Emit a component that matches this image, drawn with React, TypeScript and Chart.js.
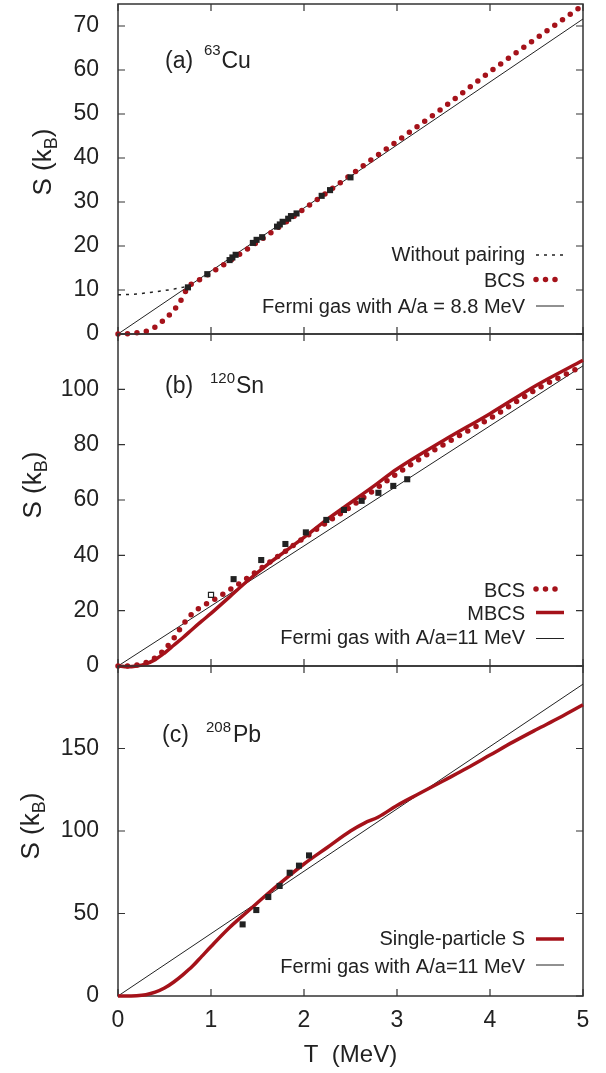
import React, { useEffect, useRef } from 'react';
import { Chart, registerables } from 'chart.js';

Chart.register(...registerables);

const FONT = '"Liberation Sans", Arial, Helvetica, sans-serif';
const INK = '#222222';
const RED = '#a5121a';

// ---------- Panel (a) 63Cu ----------
const cuFermiT = [0, 5];
const cuFermiS = [0, 71.6];
const cuNoPairT = [0, 0.2, 0.4, 0.6, 0.74];
const cuNoPairS = [8.9, 9.1, 9.6, 10.2, 10.8];
const cuBcsT = [0, 0.1, 0.2, 0.3, 0.4, 0.5, 0.55, 0.6, 0.65, 0.7, 0.75, 0.85, 1.0, 1.25, 1.5, 1.75, 2.0, 2.25, 2.5, 2.75, 3.0, 3.5, 4.0, 4.5, 5.0];
const cuBcsS = [0, 0.05, 0.25, 0.6, 1.6, 3.3, 4.3, 5.4, 6.8, 8.5, 10.6, 12.0, 13.9, 17.3, 20.9, 24.6, 28.4, 32.2, 36.1, 40.0, 43.8, 51.5, 59.6, 67.2, 74.7];
const cuExpT = [0.752, 0.96, 1.2, 1.23, 1.265, 1.45, 1.49, 1.55, 1.71, 1.74, 1.77, 1.83, 1.86, 1.92, 2.19, 2.28, 2.5];
const cuExpS = [10.6, 13.6, 16.8, 17.4, 18.0, 20.7, 21.4, 22.0, 24.4, 24.9, 25.5, 26.2, 26.8, 27.4, 31.4, 32.7, 35.6];

// ---------- Panel (b) 120Sn ----------
const snFermiT = [0, 5];
const snFermiS = [0, 108.5];
const snT = [0, 0.1, 0.2, 0.3, 0.4, 0.5, 0.6, 0.7, 0.8, 0.9, 1.0, 1.2, 1.4, 1.6, 1.8, 2.0, 2.25, 2.5, 2.75, 3.0, 3.5, 4.0, 4.5, 5.0];
const snBcsS = [0, 0, 0.3, 1.2, 3.0, 6.0, 10.0, 15.0, 19.0, 21.5, 23.3, 27.5, 32.0, 36.8, 41.5, 46.3, 52.0, 57.5, 63.5, 69.5, 80.0, 89.5, 100.0, 108.5];
const snMbcsS = [0, -0.3, 0, 0.8, 2.3, 4.7, 7.5, 10.3, 13.3, 16.2, 19.0, 25.0, 31.0, 36.5, 41.5, 46.5, 53.0, 59.0, 65.0, 71.2, 81.5, 91.2, 101.5, 110.5];
const snExpT = [1.243, 1.54, 1.8, 2.02, 2.24, 2.43, 2.62, 2.8, 2.96, 3.11];
const snExpS = [31.4, 38.3, 44.1, 48.3, 52.8, 56.4, 59.7, 62.6, 65.1, 67.5];
const snOpenT = [1.0];
const snOpenS = [25.7];

// ---------- Panel (c) 208Pb ----------
const pbFermiT = [0, 5];
const pbFermiS = [0, 189];
const pbSpT = [0, 0.2, 0.3, 0.4, 0.5, 0.6, 0.7, 0.8, 0.9, 1.0, 1.2, 1.4, 1.6, 1.8, 2.0, 2.25, 2.5, 2.65, 2.8, 3.0, 3.25, 3.5, 3.75, 4.0, 4.25, 4.5, 4.75, 5.0];
const pbSpS = [0, 0.2, 0.8, 2.3, 4.8, 8.5, 13.0, 18.0, 24.0, 30.0, 41.5, 51.5, 61.5, 71.0, 80.0, 90.0, 100.0, 104.8, 108.5, 115.5, 123.0, 130.5, 138.0, 146.0, 154.0, 161.5, 168.8, 176.5];
const pbExpT = [1.34, 1.487, 1.616, 1.738, 1.846, 1.946, 2.054];
const pbExpS = [43.4, 52.1, 60.0, 66.7, 74.7, 79.0, 85.2];

const xTickValues = [0, 1, 2, 3, 4, 5];

type Pt = { x: number; y: number };
const zip = (xs: number[], ys: number[]): Pt[] => xs.map((x, i) => ({ x, y: ys[i] }));

const STYLE: Record<string, any> = {
  thin: { borderColor: INK, borderWidth: 1 },
  dashBlack: { borderColor: INK, borderWidth: 1.5, borderDash: [3, 5] },
  dotsRed: { borderColor: RED, borderWidth: 5.5, borderDash: [0, 9.5], borderCapStyle: 'round' },
  solidRed: { borderColor: RED, borderWidth: 3.5 },
};

const lineDs = (label: string, xs: number[], ys: number[], kind: string) => ({
  label,
  data: zip(xs, ys),
  showLine: true,
  pointRadius: 0,
  pointHoverRadius: 0,
  fill: false,
  cubicInterpolationMode: 'monotone',
  clip: 8,
  ...STYLE[kind],
});

const squares = (label: string, xs: number[], ys: number[], hollow = false) => ({
  label,
  data: zip(xs, ys),
  showLine: false,
  pointStyle: 'rect',
  pointRadius: hollow ? 3.6 : 4.3,
  pointHoverRadius: hollow ? 3.6 : 4.3,
  pointBackgroundColor: hollow ? '#ffffff' : INK,
  pointBorderColor: INK,
  pointBorderWidth: hollow ? 1.2 : 0,
  clip: 8,
});

const PAD = 30;

const panels = [
  {
    key: 'a', top: 4 - PAD, height: PAD + 330 + PAD, yMax: 75, yStep: 10, showX: false,
    datasets: [
      squares('Exp', cuExpT, cuExpS),
      lineDs('BCS', cuBcsT, cuBcsS, 'dotsRed'),
      lineDs('Without pairing', cuNoPairT, cuNoPairS, 'dashBlack'),
      lineDs('Fermi gas', cuFermiT, cuFermiS, 'thin'),
    ],
    legend: [
      { text: 'Without pairing', kind: 'dashBlack', base: 261, mid: 255 },
      { text: 'BCS', kind: 'dotsRed', base: 287, mid: 279.5 },
      { text: 'Fermi gas with A/a = 8.8 MeV', kind: 'thin', base: 313, mid: 306 },
    ],
    tag: { paren: '(a)', sup: '63', sym: 'Cu', px: 165, sx: 204, mx: 221.5, base: 68, supBase: 55 },
    yTitle: { x: 51, cy: 162 },
  },
  {
    key: 'b', top: 334 - PAD, height: PAD + 332 + PAD, yMax: 120, yStep: 20, showX: false,
    datasets: [
      squares('Exp', snExpT, snExpS),
      squares('Exp open', snOpenT, snOpenS, true),
      lineDs('BCS', snT, snBcsS, 'dotsRed'),
      lineDs('MBCS', snT, snMbcsS, 'solidRed'),
      lineDs('Fermi gas', snFermiT, snFermiS, 'thin'),
    ],
    legend: [
      { text: 'BCS', kind: 'dotsRed', base: 597, mid: 589 },
      { text: 'MBCS', kind: 'solidRed', base: 619.5, mid: 612.5 },
      { text: 'Fermi gas with A/a=11 MeV', kind: 'thin', base: 644, mid: 638.5 },
    ],
    tag: { paren: '(b)', sup: '120', sym: 'Sn', px: 165, sx: 210, mx: 236, base: 393, supBase: 382.5 },
    yTitle: { x: 41, cy: 485 },
  },
  {
    key: 'c', top: 666 - PAD, height: PAD + 330 + 77, yMax: 200, yStep: 50, showX: true,
    datasets: [
      squares('Exp', pbExpT, pbExpS),
      lineDs('Single-particle S', pbSpT, pbSpS, 'solidRed'),
      lineDs('Fermi gas', pbFermiT, pbFermiS, 'thin'),
    ],
    legend: [
      { text: 'Single-particle S', kind: 'solidRed', base: 944.5, mid: 939 },
      { text: 'Fermi gas with A/a=11 MeV', kind: 'thin', base: 972.5, mid: 965 },
    ],
    tag: { paren: '(c)', sup: '208', sym: 'Pb', px: 162, sx: 206, mx: 233, base: 742, supBase: 731.5 },
    yTitle: { x: 39, cy: 826 },
  },
];

function drawSample(ctx: CanvasRenderingContext2D, kind: string, x1: number, x2: number, y: number) {
  const s = STYLE[kind];
  ctx.save();
  ctx.strokeStyle = s.borderColor;
  ctx.lineWidth = s.borderWidth;
  ctx.setLineDash(s.borderDash || []);
  ctx.lineCap = s.borderCapStyle || 'butt';
  ctx.beginPath();
  ctx.moveTo(x1, y);
  ctx.lineTo(x2, y);
  ctx.stroke();
  ctx.restore();
}

function makePlugin(cfg: any) {
  return {
    id: 'decor_' + cfg.key,
    beforeDatasetsDraw(chart: any) {
      const { ctx, chartArea: a, scales } = chart;
      ctx.save();
      ctx.strokeStyle = '#333333';
      ctx.lineWidth = 1.5;
      ctx.strokeRect(a.left, a.top, a.right - a.left, a.bottom - a.top);
      ctx.lineWidth = 1.2;
      ctx.beginPath();
      for (const t of scales.y.ticks) {
        const p = scales.y.getPixelForValue(t.value);
        ctx.moveTo(a.left, p); ctx.lineTo(a.left + 7, p);
        ctx.moveTo(a.right, p); ctx.lineTo(a.right - 7, p);
      }
      for (const v of xTickValues) {
        const p = scales.x.getPixelForValue(v);
        ctx.moveTo(p, a.bottom); ctx.lineTo(p, a.bottom - 7);
        ctx.moveTo(p, a.top); ctx.lineTo(p, a.top + 7);
      }
      ctx.stroke();
      ctx.restore();
    },
    afterDraw(chart: any) {
      const { ctx } = chart;
      const off = cfg.top;
      ctx.save();
      ctx.fillStyle = INK;
      // legend
      ctx.font = `20px ${FONT}`;
      ctx.textAlign = 'right';
      ctx.textBaseline = 'alphabetic';
      for (const e of cfg.legend) {
        ctx.fillText(e.text, 525, e.base - off);
        drawSample(ctx, e.kind, 536, 564, e.mid - off);
      }
      // panel tag
      const t = cfg.tag;
      ctx.textAlign = 'left';
      ctx.font = `23px ${FONT}`;
      ctx.fillText(t.paren, t.px, t.base - off);
      ctx.fillText(t.sym, t.mx, t.base - off);
      ctx.font = `15px ${FONT}`;
      ctx.fillText(t.sup, t.sx, t.supBase - off);
      // y title S (k_B)
      const y = cfg.yTitle;
      const f = 26;
      ctx.translate(y.x, y.cy - off);
      ctx.rotate(-Math.PI / 2);
      ctx.font = `${f}px ${FONT}`;
      const w1 = ctx.measureText('S (k').width;
      const w3 = ctx.measureText(')').width;
      ctx.font = `${Math.round(f * 0.68)}px ${FONT}`;
      const w2 = ctx.measureText('B').width;
      let x0 = -(w1 + w2 + w3) / 2;
      ctx.font = `${f}px ${FONT}`;
      ctx.fillText('S (k', x0, 0);
      x0 += w1;
      ctx.font = `${Math.round(f * 0.68)}px ${FONT}`;
      ctx.fillText('B', x0, f * 0.22);
      x0 += w2;
      ctx.font = `${f}px ${FONT}`;
      ctx.fillText(')', x0, 0);
      ctx.restore();
    },
  };
}

function Panel({ cfg }: { cfg: any }) {
  const ref = useRef<HTMLCanvasElement>(null);
  useEffect(() => {
    const chart = new Chart(ref.current as HTMLCanvasElement, {
      type: 'line',
      data: { datasets: cfg.datasets },
      options: {
        animation: false,
        responsive: false,
        maintainAspectRatio: false,
        events: [],
        layout: { padding: { top: PAD, right: 23, bottom: cfg.showX ? 0 : PAD, left: 0 } },
        plugins: { legend: { display: false }, tooltip: { enabled: false } },
        scales: {
          x: {
            type: 'linear', min: 0, max: 5, display: cfg.showX,
            grid: { display: false }, border: { display: false },
            ticks: { stepSize: 1, padding: 3, font: { family: FONT, size: 23 }, color: INK },
            title: { display: cfg.showX, text: 'T  (MeV)', font: { family: FONT, size: 24 }, color: INK, padding: { top: 0, bottom: 3.6 } },
            afterFit: (s: any) => { s.height = cfg.showX ? 77 : 0; },
          },
          y: {
            type: 'linear', min: 0, max: cfg.yMax,
            grid: { display: false }, border: { display: false },
            ticks: { stepSize: cfg.yStep, includeBounds: false, padding: 11, font: { family: FONT, size: 23 }, color: INK },
            afterBuildTicks: (s: any) => { s.ticks = s.ticks.filter((t: any) => t.value < cfg.yMax - 1e-9); },
            afterFit: (s: any) => { s.width = 118; },
          },
        },
      } as any,
      plugins: [makePlugin(cfg)],
    } as any);
    return () => chart.destroy();
  }, []);
  return (
    <canvas
      ref={ref}
      width={606}
      height={cfg.height}
      style={{ position: 'absolute', left: 0, top: cfg.top, width: 606, height: cfg.height }}
    />
  );
}

export default function App() {
  return (
    <div style={{ position: 'absolute', left: 0, top: 0, width: 606, height: 1073, overflow: 'hidden', background: '#ffffff' }}>
      {panels.map((p) => (
        <Panel key={p.key} cfg={p} />
      ))}
    </div>
  );
}
